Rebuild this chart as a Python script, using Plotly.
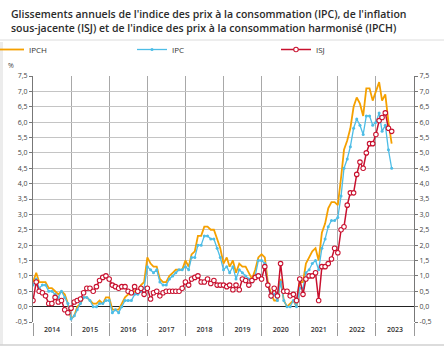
import pandas as pd
import plotly.graph_objects as go

months = pd.date_range("2014-01-01", periods=114, freq="MS")

ipch = [0.8, 1.1, 0.8, 0.8, 0.8, 0.6, 0.6, 0.5, 0.4, 0.5, 0.4, 0.1,
        -0.4, -0.3, 0.0, 0.1, 0.3, 0.3, 0.2, 0.1, 0.1, 0.2, 0.1, 0.3,
        0.3, -0.1, -0.1, -0.1, 0.1, 0.3, 0.4, 0.4, 0.5, 0.5, 0.7, 0.8,
        1.6, 1.4, 1.3, 1.3, 0.9, 0.8, 0.8, 1.0, 1.1, 1.2, 1.2, 1.2,
        1.5, 1.3, 1.7, 1.8, 2.3, 2.3, 2.6, 2.6, 2.5, 2.5, 2.2, 1.9,
        1.4, 1.6, 1.3, 1.5, 1.1, 1.4, 1.3, 1.3, 1.1, 0.9, 1.2, 1.6,
        1.7, 1.6, 0.8, 0.4, 0.2, 0.2, 0.9, 0.2, 0.0, 0.1, 0.2, 0.0,
        0.8, 0.8, 1.4, 1.6, 1.8, 1.9, 1.5, 2.4, 2.7, 3.2, 3.4, 3.4,
        3.3, 4.2, 5.1, 5.4, 5.8, 6.5, 6.8, 6.6, 6.2, 7.1, 7.1, 6.7,
        7.0, 7.3, 6.7, 6.9, 6.0, 5.3]

ipc = [0.7, 0.9, 0.6, 0.7, 0.7, 0.5, 0.5, 0.4, 0.3, 0.5, 0.3, 0.1,
       -0.4, -0.3, -0.1, 0.1, 0.3, 0.3, 0.2, 0.0, 0.0, 0.1, 0.1, 0.2,
       0.2, -0.2, -0.1, -0.2, 0.0, 0.2, 0.2, 0.2, 0.4, 0.4, 0.5, 0.6,
       1.3, 1.2, 1.1, 1.2, 0.8, 0.7, 0.7, 0.9, 1.0, 1.1, 1.2, 1.2,
       1.3, 1.2, 1.6, 1.6, 2.0, 2.0, 2.3, 2.3, 2.2, 2.2, 1.9, 1.6,
       1.2, 1.3, 1.1, 1.3, 0.9, 1.2, 1.1, 1.0, 0.9, 0.8, 1.0, 1.5,
       1.5, 1.4, 0.7, 0.3, 0.4, 0.2, 0.8, 0.2, 0.0, 0.0, 0.2, 0.0,
       0.6, 0.6, 1.1, 1.2, 1.4, 1.5, 1.2, 1.9, 2.2, 2.6, 2.8, 2.8,
       2.9, 3.6, 4.5, 4.8, 5.2, 5.8, 6.1, 5.9, 5.6, 6.2, 6.2, 5.9,
       6.0, 6.3, 5.7, 5.9, 5.1, 4.5]

isj = [0.2, 0.8, 0.5, 0.45, 0.35, 0.1, 0.1, 0.3, 0.15, 0.2, -0.1, -0.2,
       -0.05, 0.15, 0.2, 0.25, 0.45, 0.6, 0.6, 0.5, 0.65, 0.85, 0.95, 1.0,
       0.9, 0.7, 0.65, 0.6, 0.65, 0.65, 0.5, 0.45, 0.65, 0.5, 0.6, 0.4,
       0.6, 0.25, 0.45, 0.5, 0.35, 0.45, 0.5, 0.5, 0.5, 0.5, 0.5, 0.6,
       0.8, 0.7, 0.9, 0.95, 1.0, 0.8, 0.8, 0.9, 0.75, 0.85, 0.7, 0.7,
       0.7, 0.65, 0.7, 0.55, 0.7, 0.55, 0.9, 0.85, 0.7, 0.85, 0.95, 1.0,
       0.9, 1.3, 0.7, 0.35, 0.6, 0.35, 1.4, 0.5, 0.5, 0.35, 0.4, 0.2,
       0.9, 0.4, 0.9, 1.0, 1.0, 1.1, 0.2, 1.3, 1.3, 1.4, 1.55, 1.9,
       1.75, 2.5, 2.6, 3.3, 3.7, 3.7, 4.3, 4.7, 4.5, 5.0, 5.3, 5.3,
       5.6, 6.05, 6.15, 6.3, 5.8, 5.7]

y_tickvals = [-0.5, 0.0, 0.5, 1.0, 1.5, 2.0, 2.5, 3.0, 3.5, 4.0, 4.5, 5.0, 5.5, 6.0, 6.5, 7.0, 7.5]
y_ticktext = ["-0,5", "0,0", "0,5", "1,0", "1,5", "2,0", "2,5", "3,0", "3,5", "4,0",
              "4,5", "5,0", "5,5", "6,0", "6,5", "7,0", "7,5"]

title_text = ("Glissements annuels de l'indice des prix à la consommation (IPC), de l'inflation<br>"
              "sous-jacente (ISJ) et de l'indice des prix à la consommation harmonisé (IPCH)")

C_ORANGE = "#F5A000"
C_BLUE = "#4DBDE6"
C_RED = "#C8102E"
FONT = "Open Sans"

W, H = 444, 350
L, R, T, B = 33, 30, 76, 28
PW, PH = W - L - R, H - T - B

def px_x(x):
    return (x - L) / PW

def px_y(y):
    return (H - B - y) / PH

fig = go.Figure()
fig.add_trace(go.Scatter(x=months, y=ipch, name="IPCH", mode="lines", legend="legend",
                         line=dict(color=C_ORANGE, width=1.8)))
fig.add_trace(go.Scatter(x=months, y=ipc, name="IPC", mode="lines+markers", legend="legend2",
                         line=dict(color=C_BLUE, width=1.3),
                         marker=dict(size=3, color=C_BLUE)))
fig.add_trace(go.Scatter(x=months, y=isj, name="ISJ", mode="lines+markers", legend="legend3",
                         line=dict(color=C_RED, width=1.5),
                         marker=dict(size=4.5, color="white", line=dict(color=C_RED, width=1.1))))
fig.add_trace(go.Scatter(x=months, y=isj, yaxis="y2", showlegend=False, mode="lines",
                         line=dict(width=0), hoverinfo="skip", opacity=0))

def leg(xpx):
    return dict(orientation="h", x=px_x(xpx), xanchor="left", y=px_y(35), yanchor="top",
                itemwidth=30, font=dict(size=8, color="#333"), bgcolor="rgba(0,0,0,0)")

fig.update_layout(
    width=W, height=H,
    margin=dict(l=L, r=R, t=T, b=B, pad=0, autoexpand=False),
    paper_bgcolor="white", plot_bgcolor="white",
    font=dict(family=FONT, color="#444", size=8),
    showlegend=True,
    legend=leg(-11), legend2=leg(132), legend3=leg(276),
    xaxis=dict(type="date", range=["2014-01-01", "2024-01-01"],
               tick0="2014-01-01", dtick="M12", tickformat="%Y", ticklabelmode="period",
               ticks="outside", ticklen=13, tickcolor="#9a9a9a", tickwidth=1,
               ticklabelstandoff=-12,
               showgrid=True, gridcolor="#a8a8a8", gridwidth=1,
               showline=False, zeroline=False,
               tickfont=dict(size=7, color="#333", weight=600)),
    yaxis=dict(range=[-0.5, 7.5], tickvals=y_tickvals, ticktext=y_ticktext,
               showgrid=True, gridcolor="#c4c4c4", gridwidth=1,
               zeroline=True, zerolinecolor="#222", zerolinewidth=1,
               showline=True, linecolor="#777", linewidth=1,
               ticks="outside", ticklen=3, tickcolor="#777",
               tickfont=dict(size=7, color="#444")),
    yaxis2=dict(range=[-0.5, 7.5], tickvals=y_tickvals, ticktext=y_ticktext,
                overlaying="y", side="right", showgrid=False, zeroline=False,
                showline=True, linecolor="#777", linewidth=1,
                ticks="outside", ticklen=3, tickcolor="#777",
                tickfont=dict(size=7, color="#444")),
    annotations=[
        dict(text=title_text, xref="paper", yref="paper", x=px_x(9), y=px_y(5),
             xanchor="left", yanchor="top", align="left", showarrow=False,
             font=dict(family=FONT, size=10.5, color="#2b2b2b", weight=600)),
        dict(text="%", xref="paper", yref="paper", x=px_x(6), y=px_y(66),
             xanchor="left", yanchor="middle", showarrow=False,
             font=dict(family=FONT, size=7, color="#444")),
    ],
    shapes=[
        dict(type="rect", xref="paper", yref="paper", x0=px_x(0), x1=px_x(3),
             y0=px_y(345), y1=px_y(42), fillcolor="#ececec", line=dict(width=0), layer="below"),
        dict(type="line", xref="paper", yref="paper", x0=px_x(0), x1=px_x(444),
             y0=px_y(40), y1=px_y(40), line=dict(color="#dcdcdc", width=1)),
        dict(type="line", xref="paper", yref="paper", x0=px_x(0), x1=px_x(444),
             y0=px_y(345), y1=px_y(345), line=dict(color="#d0d0d0", width=1.5)),
    ],
)

fig.write_html("out.html")
